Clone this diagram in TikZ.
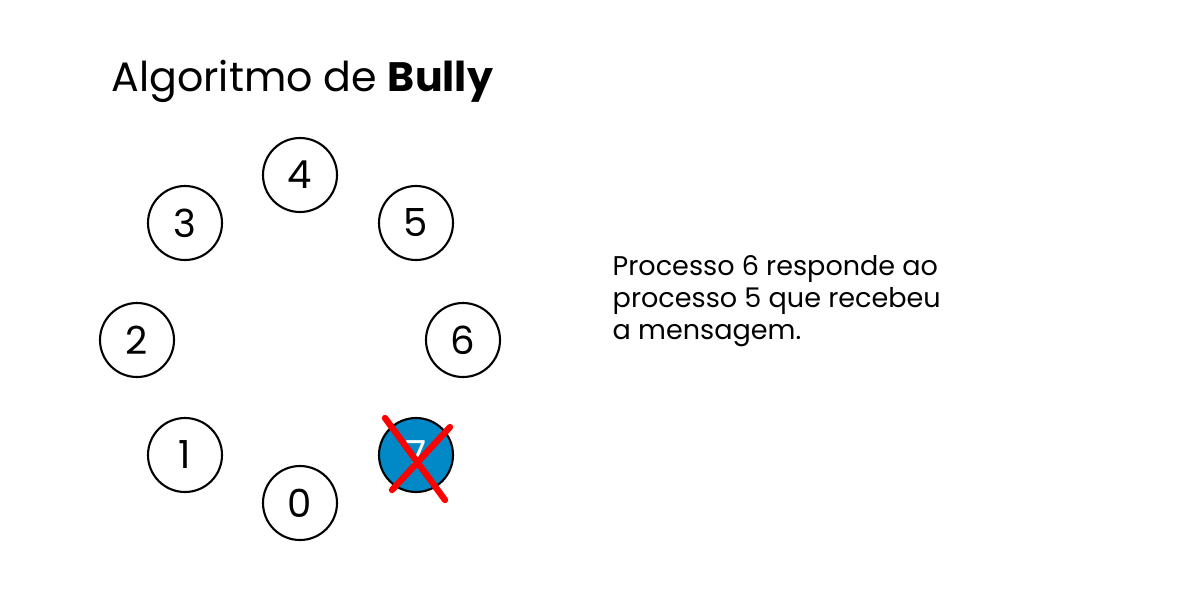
\documentclass[tikz,border=0pt]{standalone}
\usepackage{fontspec}
\setmainfont{Poppins}
\usepackage{tikz}
\usetikzlibrary{positioning,calc}

\definecolor{procblue}{RGB}{0,136,199}
\definecolor{crossred}{RGB}{255,0,0}

\tikzset{
  proc/.style={circle, draw=black, line width=0.6pt, fill=white, minimum size=0.74cm, inner sep=0pt, font=\fontsize{11}{11}\selectfont},
  dead/.style={proc, fill=procblue, text=white},
  cross/.style={crossred, line width=1.8pt, line cap=round}
}

\begin{document}
\begin{tikzpicture}[x=1cm, y=-1cm]
\useasboundingbox (0,0) rectangle (12.04,6.00);

\node[anchor=base west, inner sep=0pt, font=\fontsize{11.7}{11.7}\selectfont] (title) at (1.11,0.91) {Algoritmo de \textbf{Bully}};

% processos em anel
\node[proc] (p4) at (3.00,1.75) {4};
\node[proc] (p3) at (1.85,2.23) {3};
\node[proc] (p5) at (4.16,2.23) {5};
\node[proc] (p2) at (1.37,3.40) {2};
\node[proc] (p6) at (4.63,3.40) {6};
\node[proc] (p1) at (1.85,4.55) {1};
\node[proc] (p0) at (3.00,5.03) {0};
\node[dead] (p7) at (4.16,4.55) {7};

% processo 7 caiu
\coordinate (x1) at ($(p7)+(-0.31,-0.37)$);
\coordinate (x2) at ($(p7)+(0.29,0.45)$);
\coordinate (x3) at ($(p7)+(-0.24,0.35)$);
\coordinate (x4) at ($(p7)+(0.34,-0.28)$);
\draw[cross] (x1) -- (x2);
\draw[cross] (x3) -- (x4);

\node[anchor=north west, align=left, inner sep=0pt, font=\fontsize{7.7}{9.1}\selectfont] (msg) at (6.12,2.55) {Processo 6 responde ao\\processo 5 que recebeu\\a mensagem.};
\end{tikzpicture}
\end{document}
